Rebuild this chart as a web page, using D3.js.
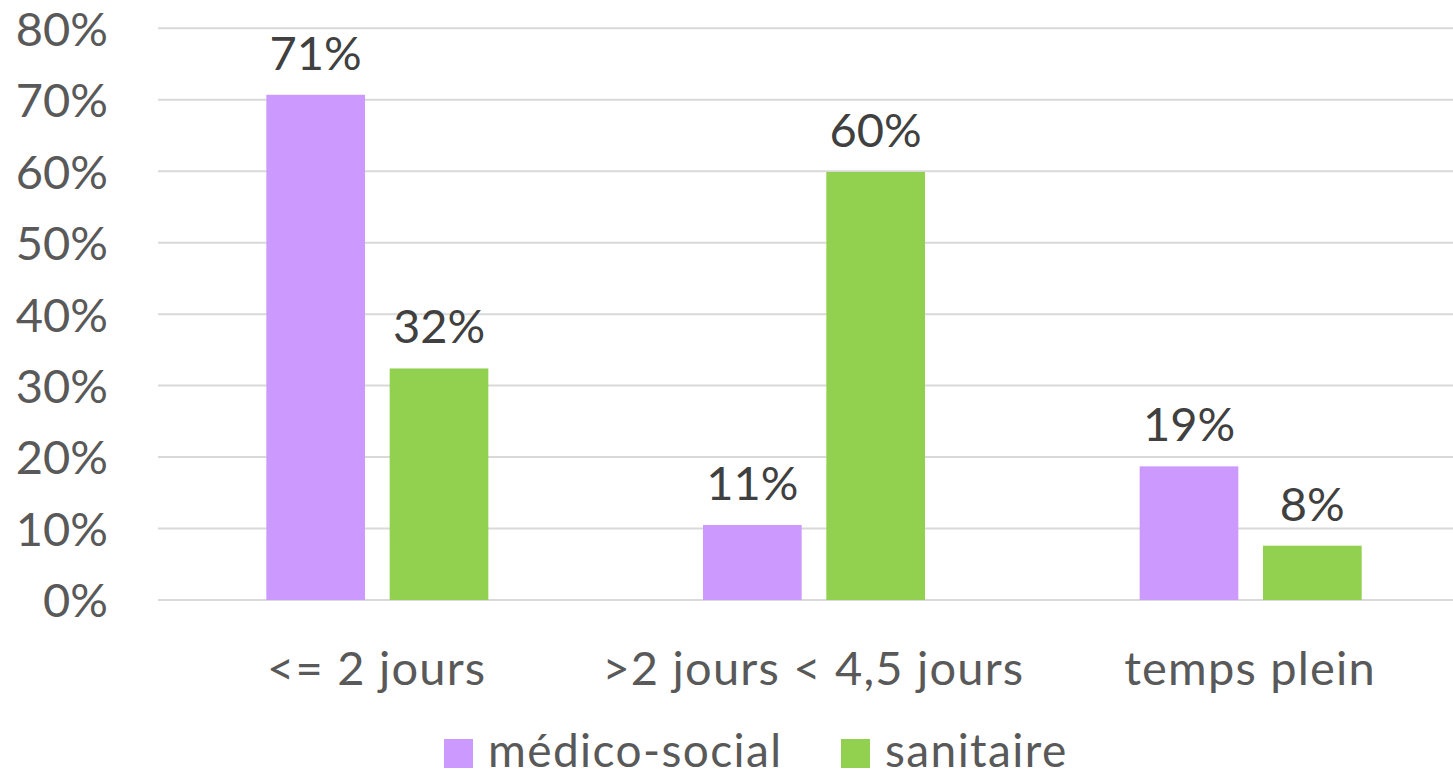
<!DOCTYPE html>
<html><head><meta charset="utf-8">
<script src="https://cdn.jsdelivr.net/npm/d3@7"></script>
<style>body{margin:0;background:#fff}svg{display:block}text{font-family:Lato,"Open Sans",sans-serif}</style>
</head><body>
<svg id="c" width="1453" height="778"></svg>
<script>
const categories = ["<= 2 jours", ">2 jours < 4,5 jours", "temps plein"];
const seriesNames = ["médico-social", "sanitaire"];
const medicoSocial = [70.7, 10.5, 18.7];
const sanitaire = [32.4, 59.9, 7.6];
const yTicks = [0, 10, 20, 30, 40, 50, 60, 70, 80];
const colors = ["#cc99ff", "#92d050"];

const svg = d3.select("#c");
const x0 = d3.scaleBand().domain(categories).range([159, 1469]).paddingInner(0).paddingOuter(0);
const x1 = d3.scaleBand().domain(seriesNames).range([x0.bandwidth()/2 - 111, x0.bandwidth()/2 + 111]).paddingInner(0.2);
const y = d3.scaleLinear().domain([0, 80]).range([600, 28.3]);

// gridlines
svg.append("g").selectAll("line").data(yTicks).join("line")
  .attr("x1", 158).attr("x2", 1453)
  .attr("y1", d => y(d)).attr("y2", d => y(d))
  .attr("stroke", "#d9d9d9").attr("stroke-width", 2);

// y axis labels
const yAxis = d3.axisLeft(y).tickValues(yTicks).tickFormat(d => d + "%").tickSize(0).tickPadding(0);
const ga = svg.append("g").attr("transform", "translate(108,0)").call(yAxis);
ga.select(".domain").remove();
ga.selectAll("text").attr("font-size", 47).attr("fill", "#595959").attr("dy", "0.36em").style("font-family", "Lato");

const data = categories.map((c, i) => ({cat: c, vals: [medicoSocial[i], sanitaire[i]]}));
const groups = svg.append("g").selectAll("g").data(data).join("g")
  .attr("transform", d => `translate(${x0(d.cat)},0)`);
groups.selectAll("rect").data(d => d.vals.map((v, j) => ({s: seriesNames[j], v, j}))).join("rect")
  .attr("x", d => x1(d.s)).attr("width", x1.bandwidth())
  .attr("y", d => y(d.v)).attr("height", d => y(0) - y(d.v))
  .attr("fill", d => colors[d.j]);
groups.selectAll("text.lbl").data(d => d.vals.map((v, j) => ({s: seriesNames[j], v, j}))).join("text")
  .attr("class", "lbl")
  .attr("x", d => x1(d.s) + x1.bandwidth()/2)
  .attr("y", d => y(d.v) - 25)
  .attr("text-anchor", "middle").attr("font-size", 47).attr("fill", "#404040")
  .text(d => Math.round(d.v) + "%");

// x axis labels
const xAxis = d3.axisBottom(x0).tickSize(0).tickPadding(0);
const gx = svg.append("g").attr("transform", "translate(0,685)").call(xAxis);
gx.select(".domain").remove();
gx.selectAll("text").attr("font-size", 47).attr("fill", "#595959").attr("dy", 0)
  .attr("dx", -0.6).style("letter-spacing", "1.2px").style("font-family", "Lato");

// legend
const legendX = [444, 841];
const lg = svg.append("g").selectAll("g").data(seriesNames).join("g")
  .attr("transform", (d, i) => `translate(${legendX[i]},739)`);
lg.append("rect").attr("width", 29).attr("height", 29).attr("fill", (d, i) => colors[i]);
lg.append("text").attr("x", 44).attr("y", 28).attr("font-size", 46).attr("fill", "#595959")
  .style("letter-spacing", "1.4px").text(d => d);
</script>
</body></html>
